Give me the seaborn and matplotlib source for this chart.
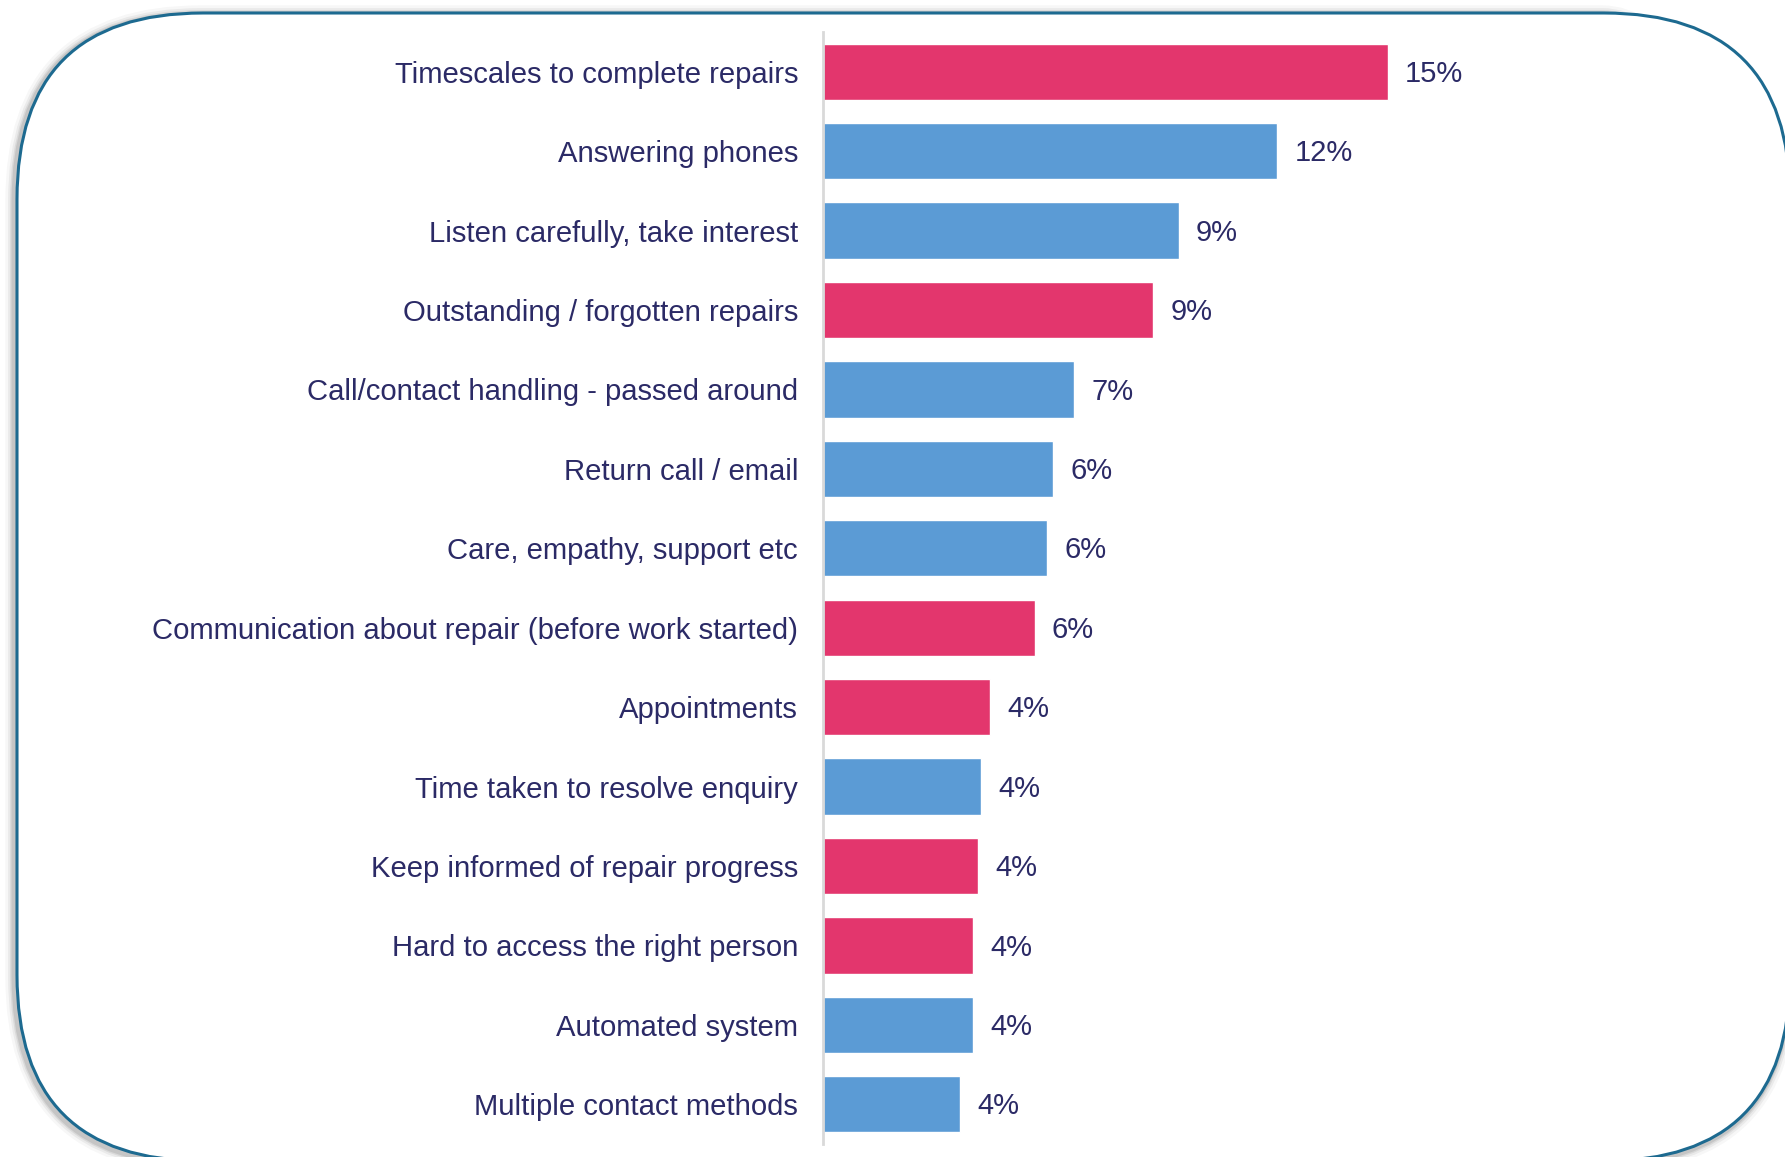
import matplotlib
matplotlib.use("Agg")
import matplotlib.pyplot as plt
import matplotlib.transforms as mtransforms
from matplotlib.patches import FancyBboxPatch
import seaborn as sns
import pandas as pd

# Share of comments per theme (%)
categories = [
    "Timescales to complete repairs",
    "Answering phones",
    "Listen carefully, take interest",
    "Outstanding / forgotten repairs",
    "Call/contact handling - passed around",
    "Return call / email",
    "Care, empathy, support etc",
    "Communication about repair (before work started)",
    "Appointments",
    "Time taken to resolve enquiry",
    "Keep informed of repair progress",
    "Hard to access the right person",
    "Automated system",
    "Multiple contact methods",
]
values = [15.0, 12.07, 9.45, 8.77, 6.68, 6.11, 5.96, 5.62, 4.45, 4.2, 4.11, 3.99, 3.99, 3.63]
groups = ["Repairs", "Contact", "Contact", "Repairs", "Contact", "Contact", "Contact",
          "Repairs", "Repairs", "Contact", "Repairs", "Repairs", "Contact", "Contact"]

palette = {"Repairs": "#E3366D", "Contact": "#5B9BD5"}
text_color = "#2B2A66"

df = pd.DataFrame({"category": categories, "value": values, "group": groups})

sns.set_theme(style="white")
plt.rcParams["font.family"] = ["Liberation Sans", "DejaVu Sans"]

W, H = 1785, 1157
fig = plt.figure(figsize=(W / 100, H / 100), dpi=100)
fig.patch.set_facecolor("white")

# Rounded frame in pixel coordinates, with a soft grey shadow
px = mtransforms.Affine2D().scale(1 / W, 1 / H) + fig.transFigure
x0, y_top, x1, y_bot = 17, 13, 1790, 1161
rect = dict(xy=(x0, H - y_bot), width=x1 - x0, height=y_bot - y_top)
for lw, a in [(14, 0.03), (10, 0.05), (7, 0.07), (5, 0.09)]:
    fig.patches.append(FancyBboxPatch(
        (rect["xy"][0] - 2, rect["xy"][1] - 2), rect["width"], rect["height"],
        boxstyle="round,pad=0,rounding_size=186", transform=px,
        facecolor="none", edgecolor="black", alpha=a, linewidth=lw, zorder=0))
fig.patches.append(FancyBboxPatch(
    rect["xy"], rect["width"], rect["height"],
    boxstyle="round,pad=0,rounding_size=186", transform=px,
    facecolor="white", edgecolor="#1D6A90", linewidth=2.2, zorder=1))

ax = fig.add_axes([823 / W, 13 / H, 941 / W, (1144 - 32) / H])
ax.set_zorder(2)
ax.patch.set_alpha(0)

sns.barplot(data=df, y="category", x="value", hue="group", palette=palette,
            dodge=False, legend=False, width=0.71, saturation=1, ax=ax, orient="h")

ax.set_xlim(0, 25)
ax.set_ylim(len(categories) - 0.5, -0.5)
ax.set_xlabel("")
ax.set_ylabel("")
ax.set_xticks([])
for s in ["top", "right", "bottom"]:
    ax.spines[s].set_visible(False)
ax.spines["left"].set_color("#D9D9D9")
ax.spines["left"].set_linewidth(2)

ax.tick_params(axis="y", length=0, pad=18, labelsize=21.1, labelcolor=text_color)

for i, v in enumerate(values):
    ax.annotate(f"{round(v):d}%", xy=(v, i), xytext=(12.5, -1.5), textcoords="offset points",
                va="center", ha="left", fontsize=21, color=text_color)

fig.savefig("out.png", dpi=100, facecolor="white")
